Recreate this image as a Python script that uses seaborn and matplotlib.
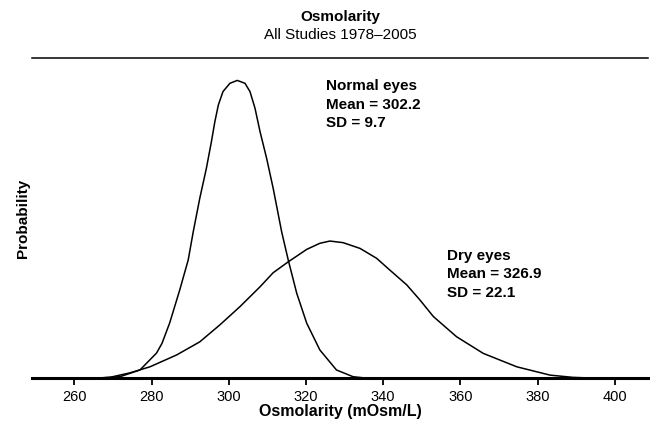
import pandas as pd
import matplotlib.pyplot as plt
import seaborn as sns

# values (x in mOsm/L, y as relative probability)
normal_x = [266.6, 271.8, 277.0, 281.3, 282.7, 284.7, 287.3, 289.5, 290.8, 292.5,
            294.2, 295.5, 296.4, 297.3, 298.5, 300.3, 302.2, 304.2, 305.5, 306.8,
            308.1, 309.8, 311.5, 313.7, 315.4, 317.6, 320.2, 323.6, 327.9, 332.2,
            335.3]
normal_y = [0.0, 0.004, 0.025, 0.078, 0.108, 0.172, 0.275, 0.369, 0.457, 0.562,
            0.655, 0.738, 0.801, 0.853, 0.895, 0.921, 0.930, 0.921, 0.895, 0.843,
            0.770, 0.687, 0.593, 0.457, 0.369, 0.265, 0.171, 0.0875, 0.025, 0.004,
            0.0]

dry_x = [266.0, 269.2, 274.4, 279.6, 286.5, 292.5, 297.7, 302.9, 308.1, 311.5,
         315.4, 320.2, 323.6, 326.2, 329.6, 334.0, 338.3, 341.7, 346.1, 349.5,
         353.0, 359.0, 365.9, 374.6, 383.2, 389.1, 393.5]
dry_y = [0.0, 0.002, 0.016, 0.035, 0.072, 0.113, 0.166, 0.223, 0.285, 0.329,
         0.363, 0.402, 0.421, 0.428, 0.423, 0.405, 0.374, 0.3375, 0.291, 0.244,
         0.192, 0.129, 0.077, 0.035, 0.009, 0.002, 0.0]

ticks = [260, 280, 300, 320, 340, 360, 380, 400]

normal_label = "Normal eyes\nMean = 302.2\nSD = 9.7"
dry_label = "Dry eyes\nMean = 326.9\nSD = 22.1"

df = pd.concat([
    pd.DataFrame({"x": normal_x, "y": normal_y, "group": "Normal"}),
    pd.DataFrame({"x": dry_x, "y": dry_y, "group": "Dry"}),
])

sns.set_style("white")
plt.rcParams["font.family"] = ["Liberation Sans", "DejaVu Sans"]
plt.rcParams["text.color"] = "black"

fig = plt.figure(figsize=(6.5, 4.26), dpi=100)
ax = fig.add_axes([0.049, 0.1127, 0.948, 0.7511])

sns.lineplot(data=df, x="x", y="y", hue="group", palette=["black", "black"],
             linewidth=1.1, legend=False, sort=False, estimator=None, ax=ax)

ax.set_xlim(249.0, 408.6)
ax.set_ylim(0, 1)
ax.set_xticks(ticks)
ax.set_yticks([])
ax.tick_params(axis="x", direction="out", length=5, width=1.3, labelsize=10.5,
               pad=4, colors="black", bottom=True)

for s in ["left", "right"]:
    ax.spines[s].set_visible(False)
ax.spines["bottom"].set_linewidth(2.2)
ax.spines["top"].set_linewidth(1.1)
ax.spines["bottom"].set_color("black")
ax.spines["top"].set_color("black")

ax.set_xlabel("Osmolarity (mOsm/L)", fontsize=11.5, fontweight="bold",
              labelpad=0, color="black")
ax.set_ylabel("Probability", fontsize=11, fontweight="bold", labelpad=1,
              color="black")

ax.text(325.3, 0.934, normal_label, fontsize=11, fontweight="bold",
        va="top", ha="left", linespacing=1.4, color="black")
ax.text(356.4, 0.404, dry_label, fontsize=11, fontweight="bold",
        va="top", ha="left", linespacing=1.4, color="black")

fig.text(0.523, 0.96, "Osmolarity", fontsize=11, fontweight="bold",
         ha="center", va="center", color="black")
fig.text(0.523, 0.918, "All Studies 1978\u20132005", fontsize=11,
         ha="center", va="center", color="black")

fig.savefig("out.png", dpi=100)
